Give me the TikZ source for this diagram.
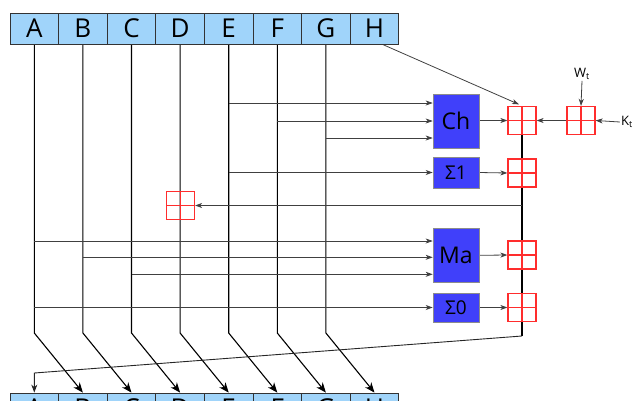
\documentclass[tikz,border=0pt]{standalone}
\usepackage{fontspec}
\setmainfont{Open Sans}
\usetikzlibrary{arrows.meta,calc,backgrounds}
\definecolor{regblue}{RGB}{160,212,250}
\definecolor{fnblue}{RGB}{64,64,250}
\definecolor{addred}{RGB}{255,45,45}
\begin{document}
\begin{tikzpicture}[x=1pt,y=-1pt,
 reg/.style={draw=black!80, fill=regblue, minimum width=48.6pt, minimum height=31pt, inner sep=0, line width=0.8pt, font=\fontsize{26}{26}\selectfont},
 fnbox/.style={draw=black!45, fill=fnblue, minimum width=46pt, inner sep=0, line width=0.6pt},
 adder/.style={draw=addred, line width=1.2pt, minimum size=28pt, inner sep=0,
   path picture={\draw[addred, line width=1.2pt] (path picture bounding box.north) -- (path picture bounding box.south) (path picture bounding box.west) -- (path picture bounding box.east);}},
 vl/.style={line width=1.1pt, black},
 hl/.style={line width=0.8pt, black!75, -{Stealth[length=7pt,width=5pt,inset=2pt]}},
 dl/.style={line width=1.1pt, black, -{Stealth[length=10pt,width=8pt,inset=3pt]}},
 lbl/.style={inner sep=1pt, font=\fontsize{13}{13}\selectfont},
]
\useasboundingbox (0,0) rectangle (640,400);
\clip (0,0) rectangle (640,400);
% registers (top)
\node[reg] (tA) at (34.3,28.5) {A};
\node[reg] (tB) at (82.9,28.5) {B};
\node[reg] (tC) at (131.5,28.5) {C};
\node[reg] (tD) at (180.1,28.5) {D};
\node[reg] (tE) at (228.7,28.5) {E};
\node[reg] (tF) at (277.3,28.5) {F};
\node[reg] (tG) at (325.9,28.5) {G};
\node[reg] (tH) at (374.5,28.5) {H};
% registers (bottom)
\node[reg] (bA) at (34.3,408.5) {A};
\node[reg] (bB) at (82.9,408.5) {B};
\node[reg] (bC) at (131.5,408.5) {C};
\node[reg] (bD) at (180.1,408.5) {D};
\node[reg] (bE) at (228.7,408.5) {E};
\node[reg] (bF) at (277.3,408.5) {F};
\node[reg] (bG) at (325.9,408.5) {G};
\node[reg] (bH) at (374.5,408.5) {H};
% functions
\node[fnbox, minimum height=54pt, font=\fontsize{23}{23}\selectfont] (ch) at (456,121) {Ch};
\node[fnbox, minimum height=31pt, font=\fontsize{19}{19}\selectfont] (s1) at (456,172.5) {Σ1};
\node[fnbox, minimum height=54pt, font=\fontsize{23}{23}\selectfont] (ma) at (456,255.3) {Ma};
\node[fnbox, minimum height=29pt, font=\fontsize{19}{19}\selectfont] (s0) at (456,307.5) {Σ0};
% adders
\node[adder] (add1) at (522,120.5) {};
\node[adder] (adds1) at (522,173) {};
\node[adder] (addma) at (522,255) {};
\node[adder] (adds0) at (522,307.5) {};
\node[adder] (addd) at (180.5,205.5) {};
\node[adder] (addwk) at (581,120.5) {};
\node[lbl] (wt) at (582,74) {W\textsubscript{t}};
\node[lbl] (kt) at (627,122) {K\textsubscript{t}};
\coordinate (bend) at (0,333);
\coordinate (fb1) at (522,336);
\coordinate (fb2) at (34.3,373);
\begin{scope}[on background layer]
% vertical register lines with diagonal shifts
\draw[dl] (tA.south) -- (tA.south |- bend) -- (bB.north);
\draw[dl] (tB.south) -- (tB.south |- bend) -- (bC.north);
\draw[dl] (tC.south) -- (tC.south |- bend) -- (bD.north);
\draw[dl] (tD.south) -- (tD.south |- bend) -- (bE.north);
\draw[dl] (tE.south) -- (tE.south |- bend) -- (bF.north);
\draw[dl] (tF.south) -- (tF.south |- bend) -- (bG.north);
\draw[dl] (tG.south) -- (tG.south |- bend) -- (bH.north);
% H to first adder
\draw[hl] ($(tH.south)+(8,0)$) -- ($(add1.north)+(-3,-1.5)$);
% inputs to Ch
\draw[hl] ($(tE.south |- ch.west)+(0,-18)$) -- ($(ch.west)+(0,-18)$);
\draw[hl] (tF.south |- ch.west) -- (ch.west);
\draw[hl] ($(tG.south |- ch.west)+(0,17)$) -- ($(ch.west)+(0,17)$);
% input to Sigma1
\draw[hl] (tE.south |- s1.west) -- (s1.west);
% inputs to Ma
\draw[hl] ($(tA.south |- ma.west)+(0,-14.3)$) -- ($(ma.west)+(0,-14.3)$);
\draw[hl] ($(tB.south |- ma.west)+(0,2)$) -- ($(ma.west)+(0,2)$);
\draw[hl] ($(tC.south |- ma.west)+(0,19)$) -- ($(ma.west)+(0,19)$);
% input to Sigma0
\draw[hl] (tA.south |- s0.west) -- (s0.west);
% function outputs to adders
\draw[hl] (ch.east |- add1.west) -- (add1.west);
\draw[hl] (s1.east) -- (adds1.west);
\draw[hl] (ma.east) -- (addma.west);
\draw[hl] (s0.east) -- (adds0.west);
% W and K
\draw[hl] (wt.south) -- (addwk.north);
\draw[hl] (kt.west) -- (addwk.east);
\draw[hl] (addwk.west) -- (add1.east);
% adder chain and feedback
\draw[vl] (add1.south) -- (fb1);
\draw[hl] (add1 |- addd.east) -- (addd.east);
\draw[line width=0.9pt, black!85, -{Stealth[length=8pt,width=6pt,inset=2.5pt]}] (fb1) -- (fb2) -- (bA.north);
\end{scope}
\end{tikzpicture}
\end{document}
